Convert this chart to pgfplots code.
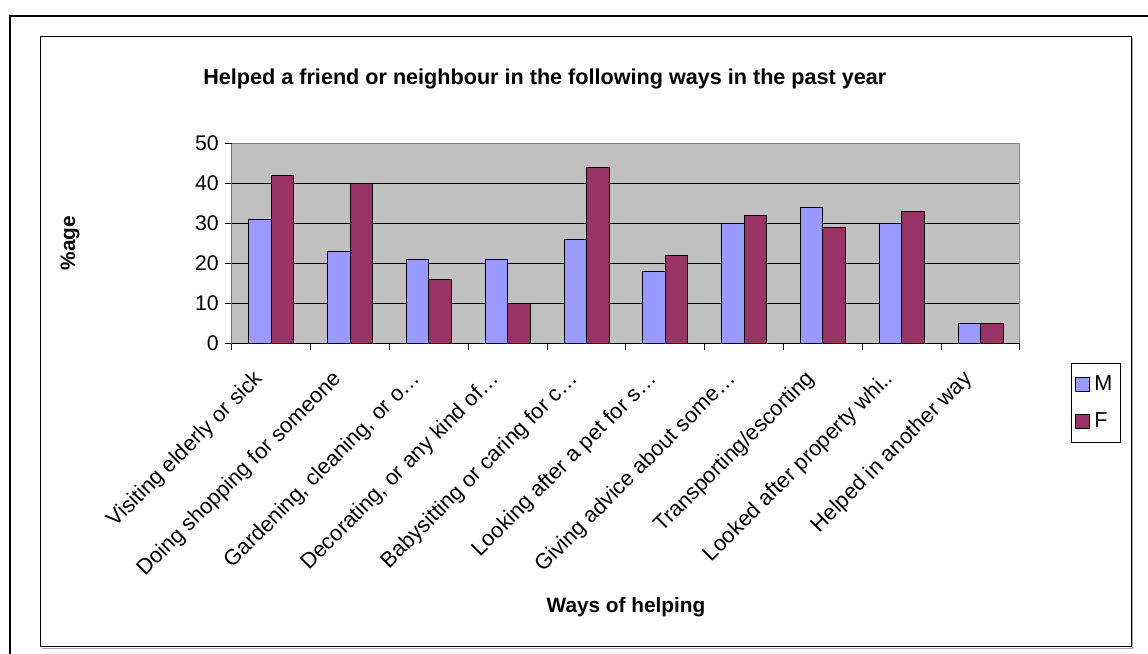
\documentclass[border=0pt]{standalone}
\usepackage{fontspec}
\setmainfont{Liberation Sans}
\usepackage{pgfplots}
\pgfplotsset{compat=1.18}
\definecolor{mcol}{HTML}{9999FF}
\definecolor{fcol}{HTML}{993366}
\definecolor{plotbg}{HTML}{C0C0C0}
\begin{document}
\begin{tikzpicture}
\useasboundingbox (0,0) rectangle (574pt,327pt);
\draw[line width=1pt] (5pt,-10pt) -- (5pt,319pt) -- (590pt,319pt);
\draw[black!35, line width=0.6pt] (20.8pt,2.9pt) -- (566.1pt,2.9pt) -- (566.1pt,308pt);
\draw[line width=0.5pt] (20pt,3.5pt) rectangle (565.5pt,308.5pt);
\begin{axis}[
  at={(116pt,155.5pt)}, anchor=south west,
  scale only axis, width=394pt, height=100pt,
  xmin=-0.5, xmax=9.5, ymin=0, ymax=50,
  ybar=0pt, bar width=11.25pt,
  axis background/.style={fill=plotbg},
  axis line style={draw=black!50, line width=0.5pt},
  ytick={0,10,20,30,40},
  extra y ticks={50},
  extra y tick style={ymajorgrids=false},
  ymajorgrids, grid style={black, line width=0.5pt},
  xtick={0,1,2,3,4,5,6,7,8,9},
  minor xtick={-0.5,0.5,1.5,2.5,3.5,4.5,5.5,6.5,7.5,8.5,9.5},
  major x tick style={draw=none},
  minor x tick style={black, line width=0.5pt},
  major y tick style={black, line width=0.5pt},
  tick align=outside, tick pos=left,
  major tick length=3.5pt, minor tick length=3.5pt,
  /pgf/number format/assume math mode=true,
  yticklabel style={font=\fontsize{10.6}{12}\selectfont, inner sep=3pt},
  xticklabels={{Visiting elderly or sick}, {Doing shopping for someone}, {Gardening, cleaning, or o…}, {Decorating, or any kind of…}, {Babysitting or caring for c…}, {Looking after a pet for s…}, {Giving advice about some…}, {Transporting/escorting}, {Looked after property whi..}, {Helped in another way}},
  xticklabel style={font=\fontsize{10.9}{12}\selectfont, xshift=-5.7pt, yshift=-12.8pt, rotate=45, anchor=east, inner sep=0pt},
  title={Helped a friend or neighbour in the following ways in the past year},
  title style={at={(axis description cs:0.397,1.26)}, anchor=center, font=\bfseries\fontsize{10.8}{12}\selectfont},
  ylabel={\%age},
  ylabel style={at={(axis description cs:-0.2056,0.5)}, anchor=center, rotate=0, font=\bfseries\fontsize{10.4}{12}\selectfont},
  xlabel={Ways of helping},
  xlabel style={at={(axis description cs:0.5,-1.32)}, anchor=center, font=\bfseries\fontsize{10.4}{12}\selectfont},
  legend style={at={(axis description cs:1.0647,-0.1)}, anchor=north west, draw=black, line width=0.5pt, fill=white, font=\fontsize{10.8}{12}\selectfont, row sep=5.5pt, inner xsep=2pt, inner ysep=4pt},
  legend cell align=left,
]
\addplot[fill=mcol, draw=black, line width=0.5pt, legend image code/.code={\draw[fill=mcol, draw=black, line width=0.5pt] (0pt,-3.5pt) rectangle (7pt,3.5pt);}] coordinates {(0,31) (1,23) (2,21) (3,21) (4,26) (5,18) (6,30) (7,34) (8,30) (9,5)};
\addplot[fill=fcol, draw=black, line width=0.5pt, legend image code/.code={\draw[fill=fcol, draw=black, line width=0.5pt] (0pt,-3.5pt) rectangle (7pt,3.5pt);}] coordinates {(0,42) (1,40) (2,16) (3,10) (4,44) (5,22) (6,32) (7,29) (8,33) (9,5)};
\legend{M,F}
\draw[black, line width=0.5pt] (rel axis cs:0,1) -- (rel axis cs:0,0) -- (rel axis cs:1,0);
\end{axis}
\end{tikzpicture}
\end{document}
